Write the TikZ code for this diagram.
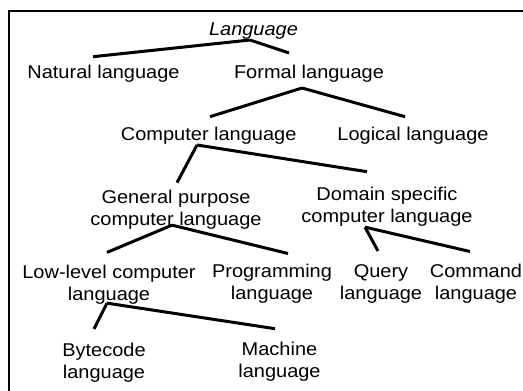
\documentclass[tikz,border=0pt]{standalone}
\usepackage{fontspec}
\setmainfont{Liberation Sans}[FakeStretch=1.08]
\tikzset{edge/.style={line width=3pt, color=black}}
\tikzset{frame/.style={line width=2pt, color=black}}
\tikzset{word/.style={inner sep=0pt, anchor=base, align=center, font=\fontsize{18.5}{22}\selectfont}}

\begin{document}
\begin{tikzpicture}[x=1pt, y=-1pt]
        \useasboundingbox (0,0) rectangle (523,391);
        \draw[frame] (523,11) -- (9,11) -- (9,391);

        \node[word] (l) at (253.5,35) {\itshape Language};
        \node[word] (n) at (103.5,78) {Natural language};
        \node[word] (f) at (309,78.3) {Formal language};
        \node[word] (c) at (208.7,140) {Computer language};
        \node[word] (g) at (413,140) {Logical language};
        \node[word] (p) at (176,225.3) {General purpose\\computer language};
        \node[word] (d) at (387,222) {Domain specific\\computer language};
        \node[word] (w) at (109,300) {Low-level computer\\language};
        \node[word] (r) at (272,299.5) {Programming\\language};
        \node[word] (q) at (381,299.5) {Query\\language};
        \node[word] (k) at (476,299.5) {Command\\language};
        \node[word] (b) at (104,378.3) {Bytecode\\language};
        \node[word] (m) at (279.5,377) {Machine\\language};

        % joints under the parents
        \coordinate (lj) at ([xshift=-3.5pt,yshift=-5pt]l.base);
        \coordinate (fj) at ([xshift=-7pt,yshift=-9.7pt]f.base);
        \coordinate (cj) at ([xshift=-11.7pt,yshift=-5pt]c.base);
        \coordinate (pj) at ([xshift=-4pt,yshift=4.2pt]p.south);
        \coordinate (dj) at ([xshift=-22pt,yshift=-1.1pt]d.south);
        \coordinate (wj) at ([xshift=-2pt,yshift=0.9pt]w.south);

        \draw[edge] (lj) -- ([xshift=-10.5pt,yshift=7.7pt]n.north);
        \draw[edge] (lj) -- ([xshift=-20pt,yshift=11.7pt]f.north);
        \draw[edge] (fj) -- ([xshift=1.3pt,yshift=9.7pt]c.north);
        \draw[edge] (fj) -- ([xshift=-8pt,yshift=9.7pt]g.north);
        \draw[edge] (cj) -- ([xshift=1pt,yshift=7pt]p.north);
        \draw[edge] (cj) -- ([xshift=-20pt,yshift=14.7pt]d.north);
        \draw[edge] (pj) -- ([xshift=-2pt,yshift=12pt]w.north);
        \draw[edge] (pj) -- ([xshift=16pt,yshift=10.4pt]r.north);
        \draw[edge] (dj) -- ([xshift=-3pt,yshift=13.4pt]q.north);
        \draw[edge] (dj) -- ([xshift=-6pt,yshift=12.4pt]k.north);
        \draw[edge] (wj) -- ([xshift=-10pt,yshift=13.7pt]b.north);
        \draw[edge] (wj) -- ([xshift=-4.5pt,yshift=12.7pt]m.north);
    \end{tikzpicture}
\end{document}
